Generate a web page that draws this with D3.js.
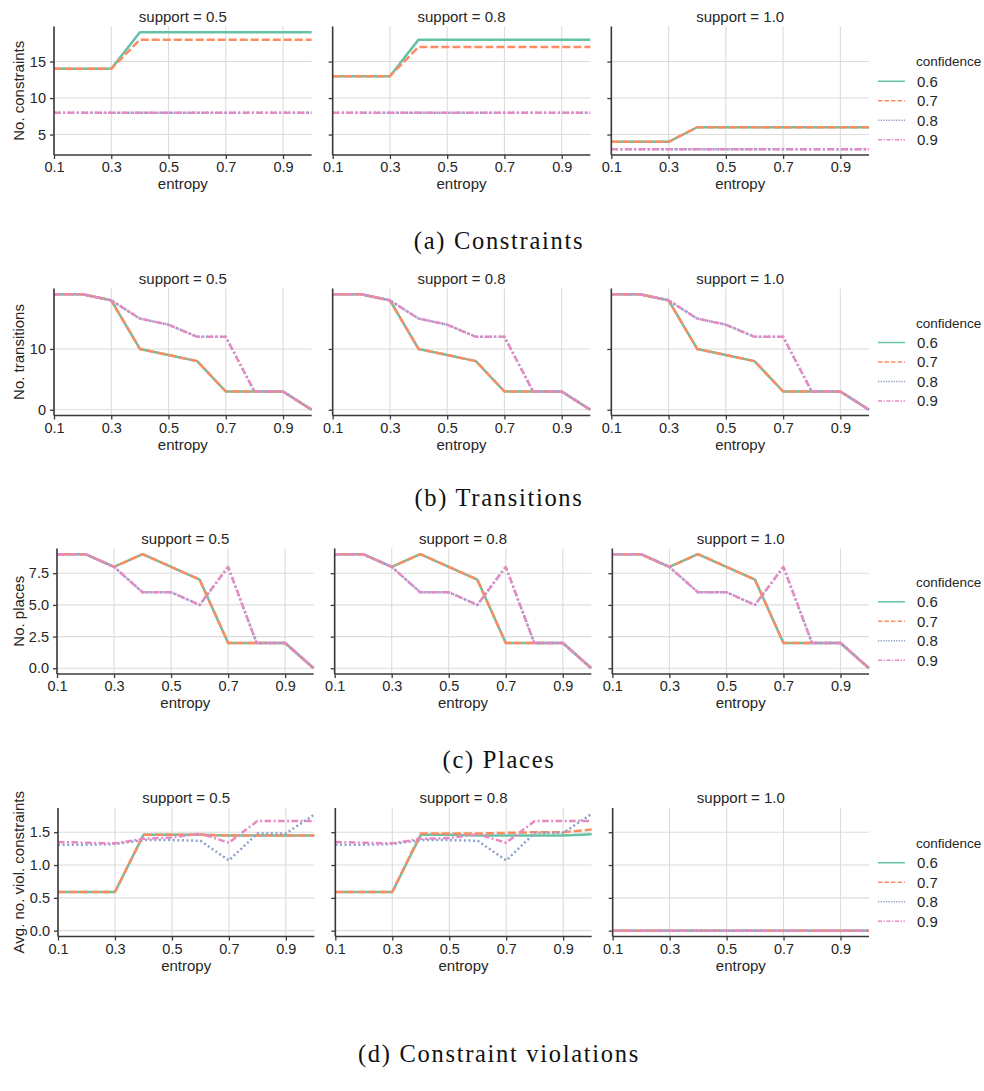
<!DOCTYPE html>
<html>
<head>
<meta charset="utf-8">
<script src="https://cdn.jsdelivr.net/npm/d3@7"></script>
<style>
  body { margin: 0; background: #fff; }
  text { font-family: "Liberation Sans", Arial, sans-serif; fill: #262626; }
  .caption { font-family: "Liberation Serif", "Times New Roman", serif; fill: #111; }
</style>
</head>
<body>
<svg width="984" height="1091"></svg>
<script>
var entropy = [0.1, 0.2, 0.3, 0.4, 0.5, 0.6, 0.7, 0.8, 0.9, 1.0];
var supports = ["0.5", "0.8", "1.0"];
var confidences = ["0.6", "0.7", "0.8", "0.9"];
var xTicks = [0.1, 0.3, 0.5, 0.7, 0.9];

// one list per confidence level (0.6, 0.7, 0.8, 0.9), values along entropy
var constraintsSup05 = [
    [14, 14, 14, 19, 19, 19, 19, 19, 19, 19],
    [14, 14, 14, 18, 18, 18, 18, 18, 18, 18],
    [8, 8, 8, 8, 8, 8, 8, 8, 8, 8],
    [8, 8, 8, 8, 8, 8, 8, 8, 8, 8]
];
var constraintsSup08 = [
    [13, 13, 13, 18, 18, 18, 18, 18, 18, 18],
    [13, 13, 13, 17, 17, 17, 17, 17, 17, 17],
    [8, 8, 8, 8, 8, 8, 8, 8, 8, 8],
    [8, 8, 8, 8, 8, 8, 8, 8, 8, 8]
];
var constraintsSup10 = [
    [4, 4, 4, 6, 6, 6, 6, 6, 6, 6],
    [4, 4, 4, 6, 6, 6, 6, 6, 6, 6],
    [3, 3, 3, 3, 3, 3, 3, 3, 3, 3],
    [3, 3, 3, 3, 3, 3, 3, 3, 3, 3]
];

// transitions and places look the same for every support level
var transitionsAll = [
    [19, 19, 18, 10, 9, 8, 3, 3, 3, 0],
    [19, 19, 18, 10, 9, 8, 3, 3, 3, 0],
    [19, 19, 18, 15, 14, 12, 12, 3, 3, 0],
    [19, 19, 18, 15, 14, 12, 12, 3, 3, 0]
];
var placesAll = [
    [9, 9, 8, 9, 8, 7, 2, 2, 2, 0],
    [9, 9, 8, 9, 8, 7, 2, 2, 2, 0],
    [9, 9, 8, 6, 6, 5, 8, 2, 2, 0],
    [9, 9, 8, 6, 6, 5, 8, 2, 2, 0]
];

var violationsSup05 = [
    [0.59, 0.59, 0.59, 1.46, 1.46, 1.46, 1.45, 1.45, 1.45, 1.45],
    [0.59, 0.59, 0.59, 1.46, 1.46, 1.46, 1.45, 1.45, 1.45, 1.45],
    [1.31, 1.31, 1.32, 1.38, 1.38, 1.37, 1.07, 1.48, 1.48, 1.77],
    [1.35, 1.34, 1.33, 1.40, 1.42, 1.48, 1.34, 1.67, 1.67, 1.67]
];
var violationsSup08 = [
    [0.59, 0.59, 0.59, 1.46, 1.46, 1.45, 1.45, 1.45, 1.45, 1.47],
    [0.59, 0.59, 0.59, 1.48, 1.48, 1.48, 1.49, 1.50, 1.50, 1.54],
    [1.31, 1.31, 1.32, 1.38, 1.38, 1.37, 1.07, 1.49, 1.49, 1.78],
    [1.35, 1.34, 1.33, 1.40, 1.41, 1.47, 1.34, 1.67, 1.67, 1.67]
];
var violationsSup10 = [
    [0, 0, 0, 0, 0, 0, 0, 0, 0, 0],
    [0, 0, 0, 0, 0, 0, 0, 0, 0, 0],
    [0, 0, 0, 0, 0, 0, 0, 0, 0, 0],
    [0, 0, 0, 0, 0, 0, 0, 0, 0, 0]
];

var colors = ["#66c2a5", "#fc8d62", "#8da0cb", "#e78ac3"];
var dashes = [null, "8,3", "2,2.6", "6.5,2.5,2,2.5"];
var legendDashes = [null, "4.5,2", "1.3,1.3", "4,1.6,1.3,1.6"];

var rows = [
    { data: [constraintsSup05, constraintsSup08, constraintsSup10], ylabel: "No. constraints",
      yTicks: [5, 10, 15], fmt: d3.format("d"), top: 26.5, bottom: 155, left: 54, caption: "(a) Constraints", capY: 249 },
    { data: [transitionsAll, transitionsAll, transitionsAll], ylabel: "No. transitions",
      yTicks: [0, 10], fmt: d3.format("d"), top: 288.5, bottom: 415.5, left: 54, caption: "(b) Transitions", capY: 506 },
    { data: [placesAll, placesAll, placesAll], ylabel: "No. places",
      yTicks: [0, 2.5, 5, 7.5], fmt: d3.format(".1f"), top: 548.5, bottom: 674, left: 57, caption: "(c) Places", capY: 768 },
    { data: [violationsSup05, violationsSup08, violationsSup10], ylabel: "Avg. no. viol. constraints",
      yTicks: [0, 0.5, 1, 1.5], fmt: d3.format(".1f"), top: 808, bottom: 936.5, left: 58, caption: "(d) Constraint violations", capY: 1062 }
];

var svg = d3.select("svg");
var rightEdge = 869, gap = 21;

rows.forEach(function (row) {
    var w = (rightEdge - row.left - 2 * gap) / 3;

    // shared y across the row, padded 5% like matplotlib
    var all = d3.merge(row.data.map(function (s) { return d3.merge(s); }));
    var lo = d3.min(all), hi = d3.max(all), pad = (hi - lo) * 0.05;
    var y = d3.scaleLinear().domain([lo - pad, hi + pad]).range([row.bottom, row.top]);

    row.data.forEach(function (series, i) {
        var x0 = row.left + i * (w + gap);
        var x = d3.scaleLinear().domain([0.1, 1.0]).range([x0, x0 + w]);
        var g = svg.append("g");

        // grid
        g.selectAll(".gx").data(xTicks).enter().append("line")
            .attr("x1", function (d) { return x(d); }).attr("x2", function (d) { return x(d); })
            .attr("y1", row.top).attr("y2", row.bottom)
            .attr("stroke", "#dcdcdc").attr("stroke-width", 1.1);
        g.selectAll(".gy").data(row.yTicks).enter().append("line")
            .attr("x1", x0).attr("x2", x0 + w)
            .attr("y1", function (d) { return y(d); }).attr("y2", function (d) { return y(d); })
            .attr("stroke", "#dcdcdc").attr("stroke-width", 1.1);

        // lines
        var line = d3.line()
            .x(function (d, k) { return x(entropy[k]); })
            .y(function (d) { return y(d); });
        series.forEach(function (vals, c) {
            g.append("path")
                .attr("d", line(vals))
                .attr("fill", "none")
                .attr("stroke", colors[c])
                .attr("stroke-width", 2.5)
                .attr("stroke-dasharray", dashes[c])
                .attr("stroke-linejoin", "round");
        });

        // axes
        var xAxis = d3.axisBottom(x).tickValues(xTicks).tickFormat(d3.format(".1f")).tickSize(4).tickPadding(3);
        var gx = svg.append("g").attr("transform", "translate(0," + row.bottom + ")").call(xAxis);
        var yAxis = d3.axisLeft(y).tickValues(row.yTicks).tickFormat(row.fmt).tickSize(4).tickPadding(4);
        var gy = svg.append("g").attr("transform", "translate(" + x0 + ",0)").call(yAxis);
        if (i > 0) gy.selectAll(".tick text").remove();
        [gx, gy].forEach(function (a) {
            a.select(".domain").attr("stroke", "#3a3a3a").attr("stroke-width", 1.6)
                .attr("d", a === gx ? "M" + x0 + ",0H" + (x0 + w) : "M0," + row.top + "V" + row.bottom);
            a.selectAll(".tick line").attr("stroke", "#3a3a3a").attr("stroke-width", 1.3);
            a.selectAll(".tick text").attr("font-size", 14.5).attr("fill", "#262626")
                .attr("font-family", "Liberation Sans, Arial, sans-serif");
        });

        svg.append("text")
            .attr("x", x0 + w / 2).attr("y", row.top - 5)
            .attr("text-anchor", "middle").attr("font-size", 15)
            .text("support = " + supports[i]);
        svg.append("text")
            .attr("x", x0 + w / 2).attr("y", row.bottom + 34)
            .attr("text-anchor", "middle").attr("font-size", 15)
            .text("entropy");
    });

    var cy = (row.top + row.bottom) / 2;
    svg.append("text")
        .attr("transform", "translate(24," + cy + ") rotate(-90)")
        .attr("text-anchor", "middle").attr("font-size", 15)
        .text(row.ylabel);

    // legend
    var ly = cy + 10;
    var lg = svg.append("g");
    lg.append("text").attr("x", 916).attr("y", ly - 39).attr("dy", "0.35em")
        .attr("font-size", 13.5).text("confidence");
    confidences.forEach(function (c, k) {
        var yy = ly - 19.5 + k * 19.5;
        lg.append("line").attr("x1", 878).attr("x2", 905).attr("y1", yy).attr("y2", yy)
            .attr("stroke", colors[k]).attr("stroke-width", 1.5)
            .attr("stroke-dasharray", legendDashes[k]);
        lg.append("text").attr("x", 917).attr("y", yy).attr("dy", "0.35em")
            .attr("font-size", 15).text(c);
    });

    svg.append("text").attr("class", "caption")
        .attr("x", 499).attr("y", row.capY)
        .attr("text-anchor", "middle").attr("font-size", 24.5)
        .attr("letter-spacing", 1.7)
        .text(row.caption);
});
</script>
</body>
</html>
